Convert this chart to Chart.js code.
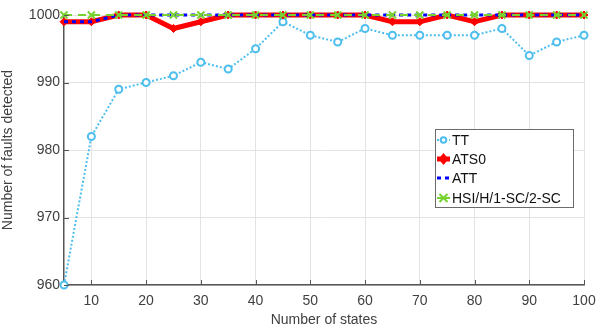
<!DOCTYPE html>
<html>
<head>
<meta charset="utf-8">
<script src="https://cdn.jsdelivr.net/npm/chart.js@4/dist/chart.umd.min.js"></script>
<style>
html,body{margin:0;padding:0;background:#fff;}
#wrap{position:relative;width:597px;height:329px;}
</style>
</head>
<body>
<div id="wrap"><canvas id="c" width="597" height="329"></canvas></div>
<script>
const states = [5,10,15,20,25,30,35,40,45,50,55,60,65,70,75,80,85,90,95,100];
const tt   = [960,982,989,990,991,993,992,995,999,997,996,998,997,997,997,997,998,994,996,997];
const ats0 = [999,999,1000,1000,998,999,1000,1000,1000,1000,1000,1000,999,999,1000,999,1000,1000,1000,1000];
const att  = [999,999,1000,1000,1000,1000,1000,1000,1000,1000,1000,1000,1000,1000,1000,1000,1000,1000,1000,1000];
const hsi  = [1000,1000,1000,1000,1000,1000,1000,1000,1000,1000,1000,1000,1000,1000,1000,1000,1000,1000,1000,1000];
const xTicks = [10,20,30,40,50,60,70,80,90,100];
const yTicks = [960,970,980,990,1000];
const seriesNames = ['TT','ATS0','ATT','HSI/H/1-SC/2-SC'];

const FONT = '"Liberation Sans", Arial, Helvetica, sans-serif';
const C_TT = '#4DBEEE', C_ATS = '#FF0000', C_ATT = '#0000FF', C_HSI = '#77D22F';

const pts = arr => arr.map((v,i)=>({x:states[i], y:v}));

const legendPlugin = {
  id: 'boxLegend',
  afterDraw(chart) {
    const ctx = chart.ctx;
    const x0 = 435, y0 = 129, w = 138, h = 78;
    ctx.save();
    ctx.fillStyle = '#fff';
    ctx.fillRect(x0, y0, w, h);
    ctx.strokeStyle = '#6b6b6b';
    ctx.lineWidth = 1;
    ctx.strokeRect(x0+0.5, y0+0.5, w, h);
    const rows = [140, 159, 178, 198];
    const ix0 = 437, ix1 = 450;
    ctx.strokeStyle = C_TT; ctx.lineWidth = 2; ctx.setLineDash([2,2]);
    ctx.beginPath(); ctx.moveTo(ix0, rows[0]); ctx.lineTo(ix1, rows[0]); ctx.stroke();
    ctx.setLineDash([]);
    ctx.fillStyle = '#fff';
    ctx.beginPath(); ctx.arc((ix0+ix1)/2, rows[0], 2.8, 0, Math.PI*2); ctx.fill(); ctx.stroke();
    ctx.strokeStyle = C_ATS; ctx.lineWidth = 5;
    ctx.beginPath(); ctx.moveTo(ix0, rows[1]); ctx.lineTo(ix1, rows[1]); ctx.stroke();
    ctx.fillStyle = C_ATS;
    const cx = (ix0+ix1)/2;
    ctx.beginPath(); ctx.moveTo(cx, rows[1]-6); ctx.lineTo(cx+5, rows[1]); ctx.lineTo(cx, rows[1]+6); ctx.lineTo(cx-5, rows[1]); ctx.closePath(); ctx.fill();
    ctx.strokeStyle = C_ATT; ctx.lineWidth = 3; ctx.setLineDash([4,4]);
    ctx.beginPath(); ctx.moveTo(ix0, rows[2]); ctx.lineTo(ix1+1, rows[2]); ctx.stroke();
    ctx.setLineDash([]);
    ctx.strokeStyle = C_HSI; ctx.lineWidth = 2;
    ctx.beginPath(); ctx.moveTo(ix0, rows[3]); ctx.lineTo(ix1, rows[3]); ctx.stroke();
    ctx.beginPath();
    ctx.moveTo(cx-4, rows[3]-4); ctx.lineTo(cx+4, rows[3]+4);
    ctx.moveTo(cx+4, rows[3]-4); ctx.lineTo(cx-4, rows[3]+4);
    ctx.stroke();
    ctx.fillStyle = '#111';
    ctx.font = '14px ' + FONT;
    ctx.textBaseline = 'middle';
    ctx.textAlign = 'left';
    seriesNames.forEach((n,i)=>ctx.fillText(n, 452, rows[i]+1));
    ctx.restore();
  }
};

const tickMarks = {
  id: 'inTicks',
  afterDatasetsDraw(chart) {
    const {ctx, chartArea:a, scales:{x, y}} = chart;
    ctx.save();
    ctx.strokeStyle = '#555'; ctx.lineWidth = 1;
    ctx.beginPath();
    xTicks.forEach(v=>{ const px = Math.round(x.getPixelForValue(v))+0.5; ctx.moveTo(px, a.bottom); ctx.lineTo(px, a.bottom-5); });
    yTicks.forEach(v=>{ const py = Math.round(y.getPixelForValue(v))+0.5; ctx.moveTo(a.left, py); ctx.lineTo(a.left+5, py); });
    ctx.stroke();
    ctx.restore();
  }
};

new Chart(document.getElementById('c'), {
  type: 'line',
  data: {
    datasets: [
      { label: seriesNames[0], data: pts(tt), borderColor: C_TT, backgroundColor: '#fff',
        borderWidth: 2, borderDash: [2,2], pointStyle: 'circle', pointRadius: 3.5,
        pointBorderWidth: 2, pointBorderColor: C_TT, pointBackgroundColor: '#fff', order: 4, clip: false },
      { label: seriesNames[1], data: pts(ats0), borderColor: C_ATS, backgroundColor: C_ATS,
        borderWidth: 5, pointStyle: 'rectRot', pointRadius: 4, pointBorderWidth: 1,
        pointBackgroundColor: C_ATS, pointBorderColor: C_ATS, order: 3, clip: false },
      { label: seriesNames[2], data: pts(att), borderColor: C_ATT, backgroundColor: C_ATT,
        borderWidth: 3, borderDash: [4,4], pointRadius: 0, order: 2, clip: false },
      { label: seriesNames[3], data: pts(hsi), borderColor: C_HSI, backgroundColor: C_HSI,
        borderWidth: 2, borderDash: [8,6], pointStyle: 'crossRot', pointRadius: 5,
        pointBorderWidth: 2, pointBorderColor: C_HSI, order: 1, clip: false }
    ]
  },
  options: {
    responsive: false,
    animation: false,
    devicePixelRatio: 1,
    layout: { padding: { top: 15, right: 0, left: 0, bottom: 0 } },
    plugins: { legend: { display: false }, tooltip: { enabled: false } },
    scales: {
      x: {
        type: 'linear', min: 5, max: 100,
        afterBuildTicks: s => { s.ticks = xTicks.map(v=>({value:v})); },
        afterFit: s => { s.height = 44; s.paddingRight = 13; s.paddingLeft = 0; },
        grid: { color: '#e3e3e3', drawTicks: false, lineWidth: 1 },
        border: { display: true, color: '#555', width: 1.5 },
        ticks: { font: { family: FONT, size: 14 }, color: '#404040', padding: 8, maxRotation: 0,
                 callback: v => String(v) },
        title: { display: true, text: 'Number of states', font: { family: FONT, size: 14 }, color: '#404040', padding: { top: 1, bottom: 0 } }
      },
      y: {
        type: 'linear', min: 960, max: 1000,
        afterBuildTicks: s => { s.ticks = yTicks.map(v=>({value:v})); },
        afterFit: s => { s.width = 64; },
        grid: { color: '#e3e3e3', drawTicks: false, lineWidth: 1 },
        border: { display: true, color: '#555', width: 1.5 },
        ticks: { font: { family: FONT, size: 14 }, color: '#404040', padding: 4,
                 callback: v => String(v) },
        title: { display: true, text: 'Number of faults detected', font: { family: FONT, size: 14 }, color: '#404040', padding: { top: 0, bottom: 0 } }
      }
    }
  },
  plugins: [tickMarks, legendPlugin]
});
</script>
</body>
</html>
